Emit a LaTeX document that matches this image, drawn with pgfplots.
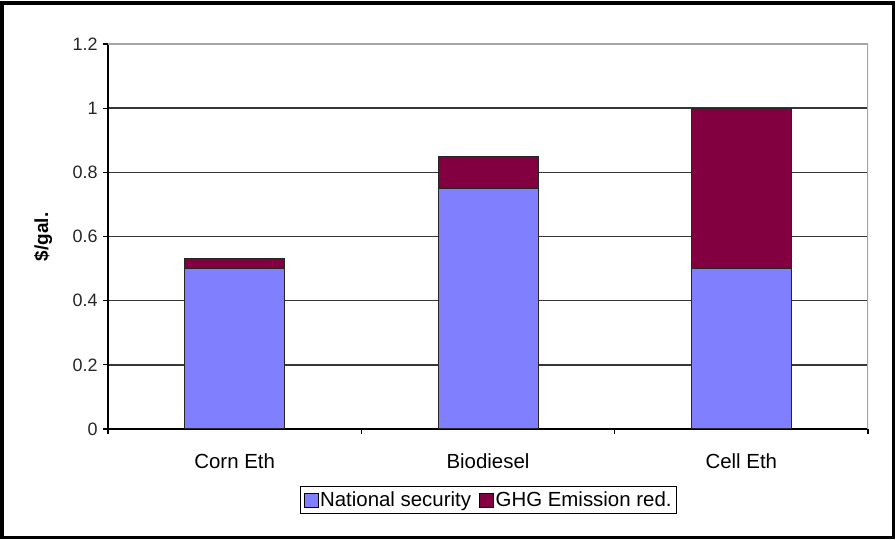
\documentclass[border=0pt]{standalone}
\usepackage{fontspec}
\setmainfont{Liberation Sans}
\usepackage{pgfplots}
\pgfplotsset{compat=1.18}
\definecolor{natsec}{RGB}{128,128,255}
\definecolor{ghg}{RGB}{130,0,64}
\definecolor{gridc}{RGB}{55,55,55}
\begin{document}
\begin{tikzpicture}[x=1bp,y=1bp]
\path[use as bounding box] (0,0) rectangle (896,540);
\draw[line width=3.5bp] (2,2.5) rectangle (893.5,537);
\begin{axis}[
  at={(108bp,111bp)}, anchor=south west,
  scale only axis, width=760bp, height=385bp,
  ybar stacked, bar width=100bp,
  xmin=-0.5, xmax=2.5, ymin=0, ymax=1.2,
  axis x line*=bottom, axis y line*=left,
  x axis line style={-, line width=1.4bp}, y axis line style={-, line width=1.4bp},
  xtick={-0.5,0.5,1.5,2.5}, xticklabels={},
  extra x ticks={0,1,2}, extra x tick labels={Corn Eth,Biodiesel,Cell Eth},
  extra x tick style={major tick length=0pt, grid=none},
  ytick={0,0.2,0.4,0.6,0.8,1,1.2},
  yticklabels={0,0.2,0.4,0.6,0.8,1,1.2},
  tick align=outside, major tick length=5bp,
  tick style={black, line width=1.3bp},
  ymajorgrids, grid style={gridc, line width=1.5bp},
  yticklabel style={font=\fontsize{18}{20}\selectfont, color=black!85, xshift=-2bp},
  xticklabel style={font=\fontsize{20.5}{22}\selectfont, yshift=-21bp},
  ylabel={\bfseries \$/gal.}, ylabel style={font=\fontsize{19}{20}\selectfont, at={(axis description cs:-0.0855,0.499)}, anchor=center},
  /pgf/number format/assume math mode=true,
  legend columns=2,
  legend style={at={(axis description cs:0.5007,-0.1844)}, anchor=center, draw=black, line width=0.9bp,
    font=\fontsize{20.5}{22}\selectfont, inner xsep=3bp, inner ysep=3bp,
    /tikz/every even column/.append style={column sep=6bp}},
  legend image code/.code={\draw[#1,draw=black,line width=0.6bp] (0bp,-7bp) rectangle (14bp,7bp);},
  every axis plot/.append style={draw=black!85, line width=1bp},
]
\addplot[fill=natsec] coordinates {(0,0.5) (1,0.75) (2,0.5)};
\addplot[fill=ghg] coordinates {(0,0.03) (1,0.10) (2,0.5)};
\legend{National security,GHG Emission red.}
\draw[gray!70, line width=1.3bp] (rel axis cs:0,1) -- (rel axis cs:1,1) -- (rel axis cs:1,0);
\end{axis}
\end{tikzpicture}
\end{document}
